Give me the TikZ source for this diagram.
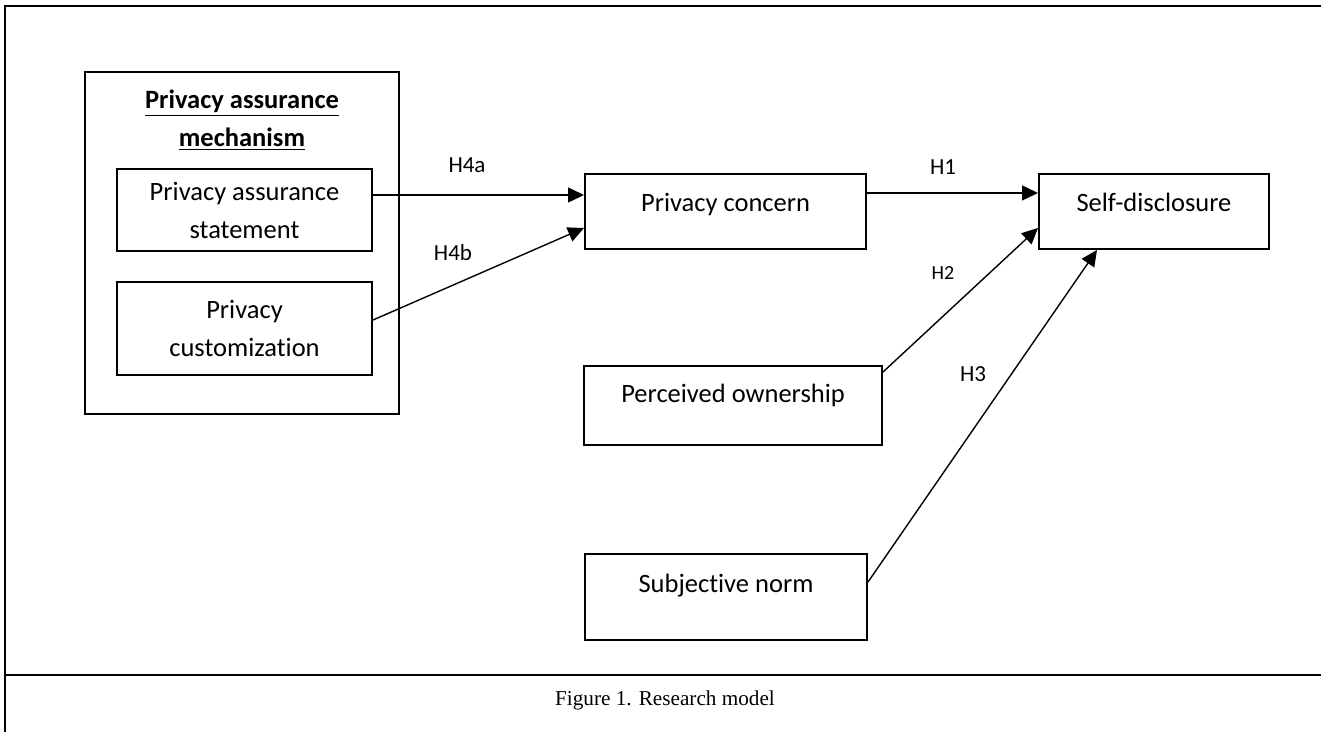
\documentclass[tikz,border=0pt]{standalone}
\usepackage{fontspec}
\setmainfont{Carlito}[Ligatures=NoCommon]
\newfontfamily\capfont{Liberation Serif}
\usetikzlibrary{arrows.meta}

\begin{document}
\begin{tikzpicture}[x=0.5pt, y=-0.5pt, every node/.style={inner sep=0pt},
  construct/.style={draw, line width=1pt, font=\fontsize{13.25}{19}\selectfont},
  hyp/.style={-{Triangle[length=8pt, width=7.5pt]}, line width=0.7pt},
  hlabel/.style={font=\fontsize{11.5}{14}\selectfont}]

  \useasboundingbox (0,0) rectangle (1321,732);

  % Frame and caption
  \draw[line width=1.2pt] (5,732) -- (5,6) -- (1321,6);
  \draw[line width=1.2pt] (5,675) -- (1321,675);
  \node[font=\capfont\fontsize{10.6}{13}\selectfont] (caption) at (665,700) {Figure 1. Research model};

  % Privacy assurance mechanism
  \node[draw, line width=1pt, minimum width=157pt, minimum height=171pt] (mechanism) at (242,243) {};
  \node[align=center, font=\bfseries\fontsize{13.25}{19}\selectfont] (title) at (242,120) {\underline{Privacy assurance}\\\underline{mechanism}};
  \node[construct, align=center, minimum width=127.5pt, minimum height=41pt] (statement) at (244.5,210) {Privacy assurance\\statement};
  \node[construct, align=center, minimum width=127.5pt, minimum height=46.5pt] (custom) at (244.5,328.5) {Privacy\\customization};

  % Constructs
  \node[construct, minimum width=140.5pt, text height=18.75pt, text depth=18.75pt] (concern) at (725.5,211.5) {Privacy concern};
  \node[construct, minimum width=115pt, text height=18.75pt, text depth=18.75pt] (selfdisc) at (1154,211.5) {Self-disclosure};
  \node[construct, minimum width=149pt, text height=18pt, text depth=21.5pt] (perceived) at (733,405.5) {Perceived ownership};
  \node[construct, minimum width=141pt, text height=19pt, text depth=24pt] (subjective) at (726,597) {Subjective norm};

  % Hypotheses
  \node[hlabel] (h4a) at (467,165) {H4a};
  \node[hlabel] (h4b) at (453,253) {H4b};
  \node[hlabel] (h1) at (943,167) {H1};
  \node[font=\fontsize{10}{12}\selectfont] (h2) at (943,273) {H2};
  \node[hlabel] (h3) at (973,374) {H3};

  \draw[hyp] ([yshift=7.5pt]statement.east) -- ([yshift=7.5pt]statement.east -| concern.west);
  \draw[hyp] ([yshift=4.25pt]custom.east) -- ([yshift=-8.25pt]concern.west);
  \draw[hyp] ([yshift=9.25pt]concern.east) -- ([yshift=9.25pt]selfdisc.west);
  \draw[hyp] ([yshift=-3.5pt]perceived.north east) -- ([yshift=-8.25pt]selfdisc.west);
  \draw[hyp] ([yshift=7.5pt]subjective.east) -- ([xshift=29.5pt]selfdisc.south west);

\end{tikzpicture}
\end{document}
